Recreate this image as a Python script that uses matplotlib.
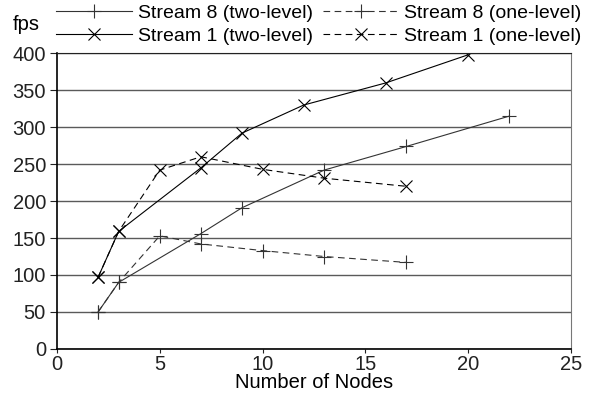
import matplotlib
matplotlib.use("Agg")
import matplotlib.pyplot as plt

plt.rcParams["font.family"] = ["Liberation Sans", "DejaVu Sans"]

# --- data: frames per second vs number of nodes ---
s8_two_nodes = [2, 3, 7, 9, 13, 17, 22]
s8_two_fps = [50, 90, 156, 191, 242, 274, 315]

s8_one_nodes = [2, 3, 5, 7, 10, 13, 17]
s8_one_fps = [50, 90, 153, 142, 133, 125, 117]

s1_two_nodes = [2, 3, 7, 9, 12, 16, 20]
s1_two_fps = [97, 159, 245, 292, 330, 360, 398]

s1_one_nodes = [2, 3, 5, 7, 10, 13, 17]
s1_one_fps = [97, 159, 242, 260, 243, 231, 220]

x_ticks = [0, 5, 10, 15, 20, 25]
y_ticks = [0, 50, 100, 150, 200, 250, 300, 350, 400]

fig = plt.figure(figsize=(5.92, 4.01), dpi=100)
ax = fig.add_axes([0.0963, 0.13, 0.868, 0.737])

dash = (0, (6, 4))
ax.plot(s8_two_nodes, s8_two_fps, color="#333333", lw=0.8, marker="+", ms=10,
        mew=0.8, label="Stream 8 (two-level)")
ax.plot(s1_two_nodes, s1_two_fps, color="black", lw=0.8, marker="x", ms=8,
        mew=0.8, label="Stream 1 (two-level)")
ax.plot(s8_one_nodes, s8_one_fps, color="#333333", lw=0.8, ls=dash, marker="+",
        ms=10, mew=0.8, label="Stream 8 (one-level)")
ax.plot(s1_one_nodes, s1_one_fps, color="black", lw=0.8, ls=dash, marker="x",
        ms=8, mew=0.8, label="Stream 1 (one-level)")

ax.set_xlim(0, 25)
ax.set_ylim(0, 400)
ax.set_xticks(x_ticks)
ax.set_yticks(y_ticks)
ax.yaxis.grid(True, color="#5a5a5a", lw=1.0)
ax.set_axisbelow(True)

ax.spines["right"].set_color("#777777")
ax.spines["top"].set_color("#222222")
ax.spines["left"].set_linewidth(1.2)
ax.spines["bottom"].set_linewidth(1.2)

ax.tick_params(axis="both", labelsize=14.5, colors="#222222", width=0.8)
ax.tick_params(axis="y", length=5, pad=3)
ax.tick_params(axis="x", length=3, pad=1.5)

ax.set_xlabel("Number of Nodes", fontsize=14.5, labelpad=-1)
fig.text(0.022, 0.94, "fps", fontsize=14.5, ha="left", va="center")

fig.legend(loc="upper left", bbox_to_anchor=(0.095, 0.99), ncol=2, frameon=False,
           fontsize=14, handlelength=3.9, handletextpad=0.3, borderpad=0,
           columnspacing=0.5, labelspacing=0.3, borderaxespad=0)

fig.savefig("out.png", dpi=100)
